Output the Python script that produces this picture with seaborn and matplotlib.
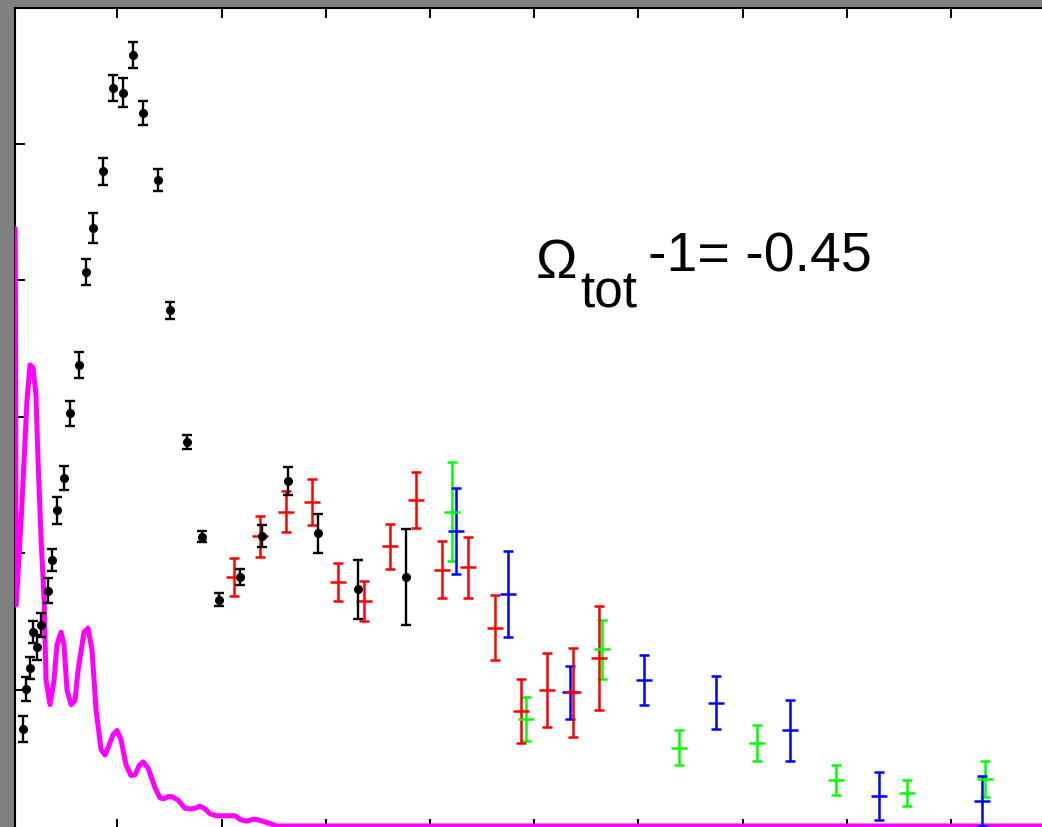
import pandas as pd
import matplotlib
matplotlib.use('Agg')
import matplotlib.pyplot as plt
import seaborn as sns

# theory curve (multipole l, power)
curve_l = [2, 3, 8, 10.5, 13.3, 16.2, 19.1, 21.9, 23.9, 26.8, 29.7, 31.6, 35.4, 39.3, 42.1,
           46, 48.8, 51.7, 55.6, 59.4, 62.3, 68, 71.9, 75.7, 79.6, 84.4, 88.2, 92, 95.9,
           99.7, 103.6, 108.3, 113.1, 117, 120.8, 124.7, 129.5, 136.2, 141, 144.8, 148.7,
           152.5, 158.3, 164.9, 169.8, 174.6, 179.4, 184.2, 189, 194.7, 213, 218.7, 224.5,
           230.2, 235, 241.7, 253.3, 1000]
curve_y = [4380, 1620, 2290, 2680, 3120, 3380, 3360, 3160, 2680, 2110, 1660, 1070, 890, 1070,
           1330, 1420, 1330, 1000, 890, 920, 1140, 1420, 1450, 1290, 850, 560, 520, 590, 670,
           700, 630, 450, 370, 375, 440, 470, 425, 280, 205, 200, 215, 215, 190, 130, 125,
           130, 145, 125, 90, 75, 75, 45, 35, 50, 45, 30, 0, 0]

# black data set
black_l = [9, 12, 16, 19, 23, 27, 33, 37, 42, 49, 55, 63, 70, 77, 86, 96, 105, 115, 125,
           139, 151, 167, 181, 198, 218, 239, 264, 293, 331, 377]
black_y = [710, 1005, 1160, 1420, 1310, 1475, 1725, 1950, 2315, 2550, 3025, 3380, 4060, 4385,
           4800, 5410, 5375, 5650, 5225, 4735, 3780, 2815, 2120, 1660, 1825, 2125, 2530, 2145,
           1735, 1825]
black_err = [95, 90, 80, 80, 90, 90, 90, 80, 100, 90, 90, 95, 95, 110, 100, 95, 105, 95, 90,
             80, 60, 50, 40, 45, 60, 80, 105, 145, 215, 350]

# red data set
red_l = [212, 237, 262, 287, 312, 337, 362, 387, 412, 437, 462, 487, 512, 537, 562]
red_y = [1825, 2125, 2305, 2375, 1790, 1650, 2050, 2390, 1880, 1895, 1455, 840, 995, 980, 1230]
red_err = [140, 150, 150, 170, 140, 145, 165, 205, 210, 225, 235, 235, 270, 325, 380]

# green data set
green_l = [421, 492, 565, 639, 714, 790, 858, 933]
green_y = [2305, 785, 1295, 575, 610, 340, 240, 345]
green_err = [360, 160, 215, 130, 130, 110, 95, 130]

# blue data set
blue_l = [425, 475, 534, 605, 675, 746, 831, 930]
blue_y = [2165, 1700, 980, 1070, 905, 700, 220, 185]
blue_err = [315, 315, 195, 185, 195, 225, 175, 185]


def main():
    sns.set_style('ticks')
    plt.rcParams['font.family'] = ['Liberation Sans', 'DejaVu Sans']

    W, H = 1042, 827
    fig = plt.figure(figsize=(W / 100, H / 100), dpi=100, facecolor='#808080')
    # axes run past the right and bottom edges of the picture
    ax = fig.add_axes([14.7 / W, (H - 829.4) / H, 1040.4 / W, 821.9 / H])
    ax.set_facecolor('white')

    theory = pd.DataFrame({'l': curve_l, 'cl': curve_y})
    sns.lineplot(data=theory, x='l', y='cl', ax=ax, color='#ff00ff', lw=3.6,
                 sort=False, estimator=None, zorder=3)

    for ls, ys, es, col in [(green_l, green_y, green_err, '#00ff00'),
                            (blue_l, blue_y, blue_err, '#0000ff'),
                            (red_l, red_y, red_err, '#ff0000')]:
        ax.errorbar(ls, ys, yerr=es, fmt='_', color=col, ms=11.5, mew=1.8,
                    elinewidth=1.8, capsize=3.6, capthick=1.8, zorder=4)

    ax.errorbar(black_l, black_y, yerr=black_err, fmt='o', color='black', ms=5.5,
                elinewidth=1.7, capsize=3.6, capthick=1.7, zorder=5)

    ax.set_xlim(1.5, 1000)
    ax.set_ylim(-25, 6000)
    ax.set_xticks(range(100, 1000, 100))
    ax.set_yticks(range(1000, 6000, 1000))
    ax.tick_params(direction='in', length=7.2, width=1.4, top=True, right=True,
                   labelleft=False, labelbottom=False, color='black')
    for s in ax.spines.values():
        s.set_linewidth(1.5)
        s.set_color('black')
    ax.set_xlabel('')
    ax.set_ylabel('')

    fig.text(536 / W, 1 - 278 / H, '\u03a9', fontsize=40, va='baseline', ha='left',
             color='black')
    fig.text(580 / W, 1 - 308 / H, 'tot', fontsize=37, va='baseline', ha='left',
             color='black')
    fig.text(648 / W, 1 - 271 / H, '-1= -0.45', fontsize=40, va='baseline', ha='left',
             color='black')

    fig.savefig('out.png', dpi=100, facecolor=fig.get_facecolor())


if __name__ == '__main__':
    main()
